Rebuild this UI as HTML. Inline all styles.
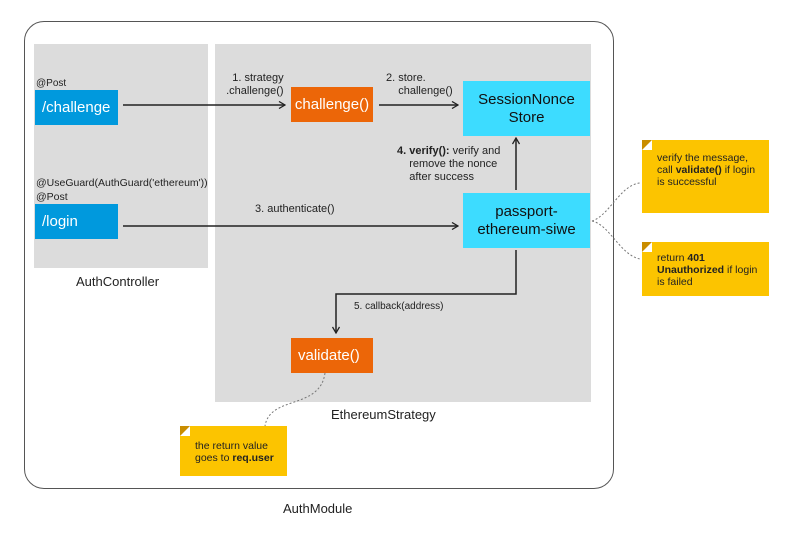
<!DOCTYPE html>
<html><head><style>
body{margin:0;width:800px;height:557px;background:#fff;font-family:"Liberation Sans",sans-serif;position:relative;overflow:hidden}
div{position:absolute;box-sizing:border-box}
.t{font-size:11px;color:#222;line-height:13px;white-space:nowrap}
.b{color:#fff;font-size:15px;display:flex;align-items:center;justify-content:center;text-align:center;line-height:18px}
.n{background:#fcc400;font-size:10.5px;line-height:12px;color:#222;padding:12px 0 0 15px;white-space:nowrap}
.n:before{content:"";position:absolute;left:0;top:0;border-style:solid;border-width:10px 10px 0 0;border-color:#c98d00 #fff transparent transparent}
</style></head><body>
<div style="left:24px;top:21px;width:590px;height:468px;border:1.5px solid #555;border-radius:20px"></div>
<div style="left:34px;top:44px;width:174px;height:224px;background:#dcdcdc"></div>
<div style="left:215px;top:44px;width:376px;height:358px;background:#dcdcdc"></div>
<div class="t" style="left:76px;top:275px;font-size:13px">AuthController</div>
<div class="t" style="left:331px;top:408px;font-size:13px">EthereumStrategy</div>
<div class="t" style="left:283px;top:502px;font-size:13px">AuthModule</div>
<div class="t" style="left:36px;top:77px;font-size:10px">@Post</div>
<div class="t" style="left:36px;top:177px;font-size:10.5px">@UseGuard(AuthGuard('ethereum'))</div>
<div class="t" style="left:36px;top:191px;font-size:10.5px">@Post</div>
<div class="b" style="left:35px;top:90px;width:83px;height:35px;background:#0099dd;justify-content:flex-start;padding-left:7px">/challenge</div>
<div class="b" style="left:35px;top:204px;width:83px;height:35px;background:#0099dd;justify-content:flex-start;padding-left:7px">/login</div>
<div class="b" style="left:291px;top:87px;width:82px;height:35px;background:#ec6608">challenge()</div>
<div class="b" style="left:463px;top:81px;width:127px;height:55px;background:#3ddcff;color:#111">SessionNonce<br>Store</div>
<div class="b" style="left:463px;top:193px;width:127px;height:55px;background:#3ddcff;color:#111">passport-<br>ethereum-siwe</div>
<div class="b" style="left:291px;top:338px;width:82px;height:35px;background:#ec6608;justify-content:flex-start;padding-left:7px">validate()</div>
<div class="t" style="left:220px;top:72px;text-align:right;font-size:11px;line-height:13px">1. strategy<br>&nbsp;&nbsp;.challenge()</div>
<div class="t" style="left:386px;top:72px;font-size:11px">2. store.<br>&nbsp;&nbsp;&nbsp;&nbsp;challenge()</div>
<div class="t" style="left:397px;top:145px;font-size:11px"><b>4. verify():</b> verify and<br>&nbsp;&nbsp;&nbsp;&nbsp;remove the nonce<br>&nbsp;&nbsp;&nbsp;&nbsp;after success</div>
<div class="t" style="left:255px;top:203px;font-size:11px">3. authenticate()</div>
<div class="t" style="left:354px;top:300px;font-size:10px">5. callback(address)</div>
<div class="n" style="left:642px;top:140px;width:127px;height:73px">verify the message,<br>call <b>validate()</b> if login<br>is successful</div>
<div class="n" style="left:642px;top:242px;width:127px;height:54px;padding-top:10px">return <b>401<br>Unauthorized</b> if login<br>is failed</div>
<div class="n" style="left:180px;top:426px;width:107px;height:50px;padding-top:14px">the return value<br>goes to <b>req.user</b></div>
<svg width="800" height="557" style="position:absolute;left:0;top:0">
<defs><marker id="a" markerWidth="8" markerHeight="8" refX="7" refY="4" orient="auto" markerUnits="userSpaceOnUse"><path d="M1,0.5 L7,4 L1,7.5" fill="none" stroke="#222" stroke-width="1.3"/></marker></defs>
<g stroke="#222" stroke-width="1.5" fill="none" marker-end="url(#a)">
<line x1="123" y1="105" x2="285" y2="105"/>
<line x1="379" y1="105" x2="458" y2="105"/>
<line x1="123" y1="226" x2="458" y2="226"/>
<line x1="516" y1="190" x2="516" y2="138"/>
<polyline points="516,250 516,294 336,294 336,333"/>
</g>
<g stroke="#777" stroke-width="1" stroke-dasharray="2,2" fill="none">
<path d="M592,221 C610,215 620,185 640,183"/>
<path d="M592,221 C610,225 620,255 640,259"/>
<path d="M325,373 C320,410 270,395 265,426"/>
</g>
</svg>
</body></html>
